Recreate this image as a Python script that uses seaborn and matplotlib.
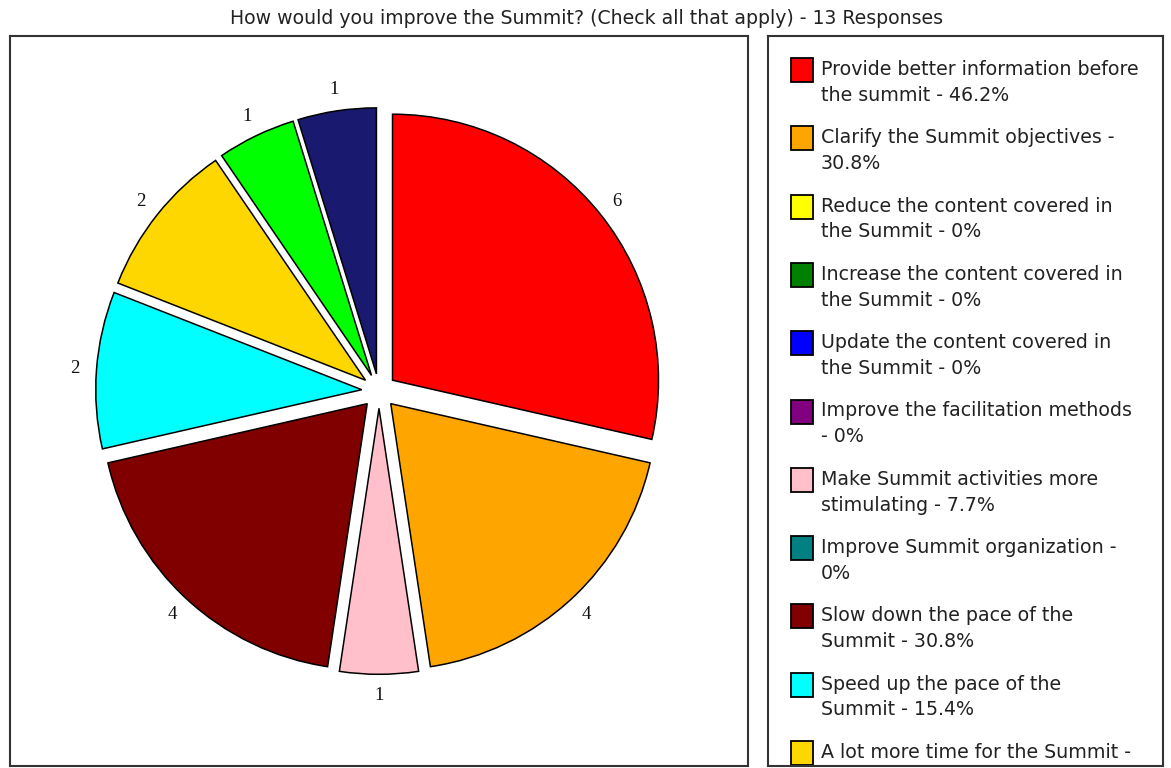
import matplotlib
matplotlib.use("Agg")
import matplotlib.pyplot as plt
from matplotlib.patches import Rectangle
import seaborn as sns

# survey answers, in legend order
labels = [
    "Provide better information before\nthe summit",
    "Clarify the Summit objectives",
    "Reduce the content covered in\nthe Summit",
    "Increase the content covered in\nthe Summit",
    "Update the content covered in\nthe Summit",
    "Improve the facilitation methods\n",
    "Make Summit activities more\nstimulating",
    "Improve Summit organization",
    "Slow down the pace of the\nSummit",
    "Speed up the pace of the\nSummit",
    "A lot more time for the Summit",
    "Other",
    "Other",
]
counts = [6, 4, 0, 0, 0, 0, 1, 0, 4, 2, 2, 1, 1]
colors = ["#ff0000", "#ffa500", "#ffff00", "#008000", "#0000ff", "#800080",
          "#ffc0cb", "#008080", "#800000", "#00ffff", "#ffd700", "#00ff00", "#191970"]
n_responses = 13
title = "How would you improve the Summit? (Check all that apply) - 13 Responses"

sns.set_theme(style="white")
plt.rcParams["font.family"] = ["DejaVu Sans"]

W, H = 1171, 768
fig = plt.figure(figsize=(W / 100, H / 100), dpi=100)
fig.patch.set_facecolor("white")


def fig_rect(x, y, w, h):
    # pixel box (top-left origin) -> figure fraction
    return [x / W, 1 - (y + h) / H, w / W, h / H]


fig.text(586 / W, 1 - 19 / H, title, ha="center", va="center", fontsize=13.6, color="#222222")

# pie panel
ax = fig.add_axes(fig_rect(10, 36, 738, 730))
vals = [c for c in counts if c > 0]
cols = [col for c, col in zip(counts, colors) if c > 0]
wedges, texts = ax.pie(vals, colors=cols, startangle=90, counterclock=False,
                       explode=[0.065] * len(vals), labels=[str(v) for v in vals],
                       labeldistance=1.08,
                       wedgeprops=dict(edgecolor="black", linewidth=1.1),
                       textprops=dict(fontsize=13.5, family="Liberation Serif", color="#111111"))
for t in texts:
    t.set_ha("center")
    t.set_va("center")
r = 266.0
ax.set_aspect("auto")
ax.set_xlim(-369 / r, (738 - 369) / r)
ax.set_ylim(-(730 - 355) / r, 355 / r)
ax.set_frame_on(True)
for s in ax.spines.values():
    s.set_color("#333333")
    s.set_linewidth(1.5)
    s.set_visible(True)
ax.set_xticks([])
ax.set_yticks([])

# legend panel
lax = fig.add_axes(fig_rect(768, 36, 395, 730))
lax.set_xlim(0, 395)
lax.set_ylim(730, 0)
lax.set_xticks([])
lax.set_yticks([])
for s in lax.spines.values():
    s.set_color("#333333")
    s.set_linewidth(1.5)

y0, step = 34, 68.3
for i, (lab, c, col) in enumerate(zip(labels, counts, colors)):
    pct = c / n_responses * 100
    pct_txt = "0%" if c == 0 else f"{pct:.1f}%"
    if "\n" in lab:
        text = f"{lab} - {pct_txt}" if not lab.endswith("\n") else f"{lab}- {pct_txt}"
    else:
        text = f"{lab} -\n{pct_txt}"
    y = y0 + i * step
    lax.add_patch(Rectangle((23, y - 12), 22, 24, facecolor=col, edgecolor="black",
                            linewidth=1.3, clip_on=True))
    lax.text(53, y - 10, text, ha="left", va="top", fontsize=13.7, color="#222222",
             linespacing=1.45, clip_on=True)

fig.savefig("out.png", dpi=100, facecolor="white")
